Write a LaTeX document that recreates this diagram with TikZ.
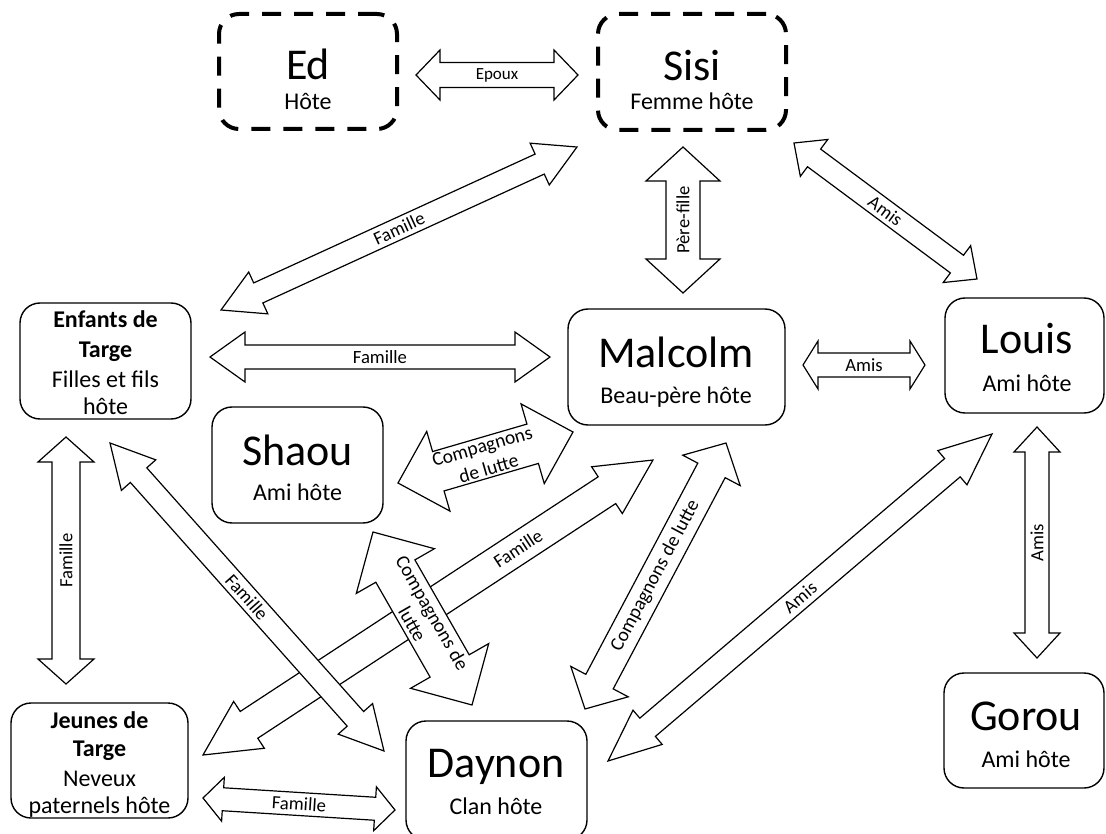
\documentclass[tikz,border=0pt]{standalone}
\usepackage{fontspec}
\setmainfont{Carlito}
\usetikzlibrary{calc}
\newcommand\dbl[8]{%
  \path let \p1=(#1), \p2=(#2) in \pgfextra{%
    \pgfmathsetmacro\dbA{atan2(\y2-\y1,\x2-\x1)}%
    \pgfmathsetmacro\dbL{veclen(\x2-\x1,\y2-\y1)}%
    \global\let\dbAng\dbA \global\let\dbLen\dbL};
  \begin{scope}[shift={(#1)}, rotate=\dbAng]
    \draw[blockarrow] (0pt,0pt) -- (#5pt,#4pt) -- (#5pt,#3pt)
      -- ({(\dbLen-#5)*1pt},#3pt) -- ({(\dbLen-#5)*1pt},#4pt)
      -- ({\dbLen*1pt},0pt)
      -- ({(\dbLen-#5)*1pt},-#4pt) -- ({(\dbLen-#5)*1pt},-#3pt)
      -- (#5pt,-#3pt) -- (#5pt,-#4pt) -- cycle;
    \node[lbl, rotate=\dbAng, #8] at ({#6*\dbLen*1pt},0pt) {#7};
  \end{scope}}
\begin{document}
\begin{tikzpicture}[x=1pt,y=-1pt,
  box/.style={draw, line width=1.4pt, rounded corners=20pt, inner sep=0pt},
  dbox/.style={draw, line width=4pt, dash pattern=on 19pt off 13pt, rounded corners=20pt, inner sep=0pt},
  bigname/.style={font=\fontsize{44}{52}\selectfont, anchor=base, inner sep=0pt},
  subname/.style={font=\fontsize{24}{29}\selectfont, anchor=base, inner sep=0pt},
  boldname/.style={font=\fontsize{24}{29}\selectfont\bfseries, anchor=base, inner sep=0pt},
  lbl/.style={font=\fontsize{18.67}{22.5}\selectfont, align=center, inner sep=0pt},
  lblbig/.style={font=\fontsize{19.5}{23}\selectfont},
  blockarrow/.style={draw, fill=white, line width=1.2pt, line join=miter}]
\path[fill=white, use as bounding box] (0,0) rectangle (1106,834);

% boxes
\node[dbox, minimum width=178pt, minimum height=115pt] (edbox) at (308,71.5) {};
\node[bigname] (edn) at (308,80) {Ed};
\node[subname] (eds) at (308,110) {Hôte};

\node[dbox, minimum width=188pt, minimum height=116pt] (sisibox) at (692,72) {};
\node[bigname] (sisin) at (692,81) {Sisi};
\node[subname] (sisis) at (692,110) {Femme hôte};

\node[box, minimum width=217pt, minimum height=116pt] (malbox) at (676.5,367) {};
\node[bigname] (maln) at (676,367) {Malcolm};
\node[subname] (mals) at (676,403) {Beau-père hôte};

\node[box, minimum width=159pt, minimum height=115pt] (loubox) at (1024.5,355.5) {};
\node[bigname] (loun) at (1027,353) {Louis};
\node[subname] (lous) at (1027,391) {Ami hôte};

\node[box, minimum width=160pt, minimum height=115pt] (gorbox) at (1024,730.5) {};
\node[bigname] (gorn) at (1026,730) {Gorou};
\node[subname] (gors) at (1026,767) {Ami hôte};

\node[box, minimum width=171pt, minimum height=116pt] (shabox) at (297.5,465) {};
\node[bigname] (shan) at (297.5,465) {Shaou};
\node[subname] (shas) at (297.5,500) {Ami hôte};

\node[box, minimum width=181pt, minimum height=119pt] (daybox) at (496.5,780.5) {};
\node[bigname] (dayn) at (496,777) {Daynon};
\node[subname] (days) at (496,814) {Clan hôte};

\node[box, minimum width=171pt, minimum height=116pt] (enfbox) at (105.5,361) {};
\node[boldname] (enf1) at (105.5,328) {Enfants de};
\node[boldname] (enf2) at (105.5,358) {Targe};
\node[subname] (enf3) at (105.5,387) {Filles et fils};
\node[subname] (enf4) at (105.5,414) {hôte};

\node[box, minimum width=177pt, minimum height=115pt] (jeubox) at (99.5,760.5) {};
\node[boldname] (jeu1) at (99.5,728) {Jeunes de};
\node[boldname] (jeu2) at (99.5,756) {Targe};
\node[subname] (jeu3) at (99.5,786) {Neveux};
\node[subname] (jeu4) at (99.5,813) {paternels hôte};

% arrow ends
\coordinate (a1s) at (416,75);   \coordinate (a1e) at (578,75);
\coordinate (a2s) at (221,310);  \coordinate (a2e) at (577,147);
\coordinate (a3s) at (683,293);  \coordinate (a3e) at (683,147);
\coordinate (a4s) at (794,143);  \coordinate (a4e) at (977,279);
\coordinate (a5s) at (210,357);  \coordinate (a5e) at (550,357);
\coordinate (a6s) at (803,365);  \coordinate (a6e) at (925,365);
\coordinate (a7s) at (398,483);  \coordinate (a7e) at (573,432);
\coordinate (a8s) at (203,755);  \coordinate (a8e) at (653,460);
\coordinate (a9s) at (373,532);  \coordinate (a9e) at (472,705);
\coordinate (a10s) at (110,443); \coordinate (a10e) at (384,751);
\coordinate (a11s) at (66,684);  \coordinate (a11e) at (66,437);
\coordinate (a12s) at (585,709); \coordinate (a12e) at (726,443);
\coordinate (a13s) at (608,761); \coordinate (a13e) at (992,434);
\coordinate (a14s) at (1037,658);\coordinate (a14e) at (1037,427);
\coordinate (a15s) at (203,798); \coordinate (a15e) at (395,810);

% arrows
\dbl{a8s}{a8e}{16}{28}{55}{0.7}{Famille}{}
\dbl{a1s}{a1e}{12.5}{25}{24}{0.5}{Epoux}{font=\fontsize{17}{20}\selectfont}
\dbl{a2s}{a2e}{11}{23}{41}{0.5}{Famille}{}
\dbl{a3s}{a3e}{17}{37}{34}{0.5}{Père-fille}{}
\dbl{a4s}{a4e}{11}{23}{25}{0.5}{Amis}{}
\dbl{a5s}{a5e}{12}{25}{35}{0.5}{Famille}{}
\dbl{a6s}{a6e}{12}{24}{15}{0.5}{Amis}{}
\dbl{a7s}{a7e}{20.5}{41.5}{42}{0.5}{Compagnons\\de lutte}{lblbig}
\dbl{a9s}{a9e}{22.5}{45}{45}{0.5}{Compagnons de\\lutte}{lblbig}
\dbl{a10s}{a10e}{11}{23}{43}{0.5}{Famille}{}
\dbl{a11s}{a11e}{14}{28}{25}{0.5}{Famille}{}
\dbl{a12s}{a12e}{15.5}{32.5}{31}{0.5}{Compagnons de lutte}{lblbig}
\dbl{a13s}{a13e}{12}{22.5}{52}{0.5}{Amis}{}
\dbl{a14s}{a14e}{12}{23}{25}{0.5}{Amis}{}
\dbl{a15s}{a15e}{11.5}{22}{20}{0.5}{Famille}{}
\end{tikzpicture}
\end{document}
